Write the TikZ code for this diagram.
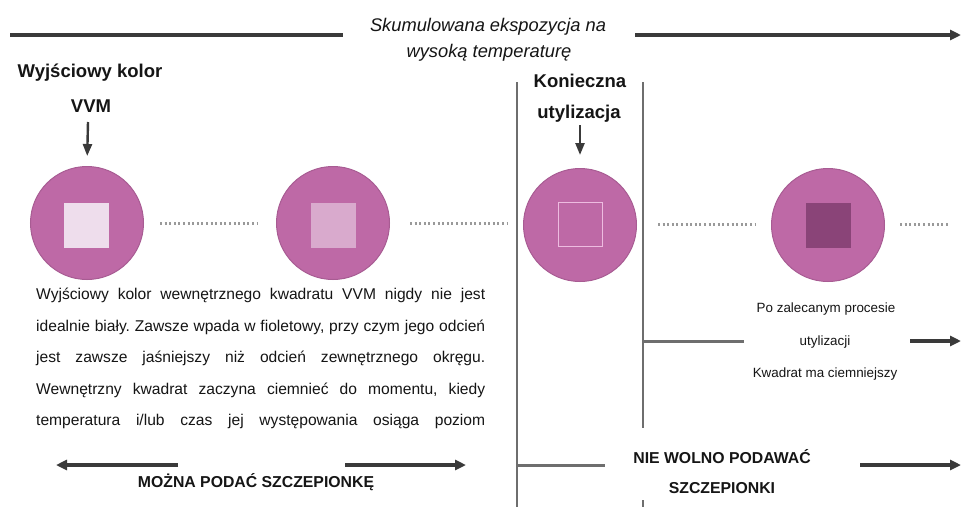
\documentclass[tikz,border=0pt]{standalone}
\usepackage{fontspec}
\setmainfont{Liberation Sans}
\usetikzlibrary{arrows.meta}
\definecolor{circ}{HTML}{BE69A6}
\definecolor{circedge}{HTML}{A85C93}
\definecolor{sqa}{HTML}{EEDDEC}
\definecolor{sqb}{HTML}{D9AACD}
\definecolor{sqc}{HTML}{EDBCE0}
\definecolor{sqd}{HTML}{8A4478}
\definecolor{lineg}{HTML}{3A3A3A}
\definecolor{vgray}{HTML}{6E6E6E}
\definecolor{dotg}{HTML}{9A9A9A}
\definecolor{txt}{HTML}{151515}
\begin{document}
\frenchspacing
\begin{tikzpicture}[x=1pt,y=-1pt,
  lbl/.style={font=\bfseries\fontsize{18.5}{22}\selectfont, anchor=base, inner sep=0, text=txt},
  ital/.style={font=\itshape\fontsize{18.3}{22}\selectfont, anchor=base, inner sep=0, text=txt},
  smalltxt/.style={font=\fontsize{13.4}{16}\selectfont, anchor=base, inner sep=0, text=txt},
  captxt/.style={font=\bfseries\fontsize{15.8}{19}\selectfont, anchor=base, inner sep=0, text=txt},
  para/.style={font=\frenchspacing\fontsize{15.6}{18}\selectfont, anchor=base west, inner sep=0, text=txt},
  hline/.style={draw=lineg, line width=3.2pt},
  arr/.style={hline, -{Triangle[length=11pt,width=10pt]}},
  downarr/.style={draw=lineg, line width=2.4pt, -{Triangle[length=12pt,width=9pt]}},
  vline/.style={draw=vgray, line width=2.8pt},
  gline/.style={draw=vgray, line width=3pt},
  dots/.style={draw=dotg, line width=3pt, dash pattern=on 2pt off 2.6pt},
  ring/.style={circle, minimum size=113pt, fill=circ, draw=circedge, line width=1pt, inner sep=0},
  sqbox/.style={minimum size=45pt, inner sep=0}
]
\useasboundingbox (0,0) rectangle (962,507);
\fill[white] (0,0) rectangle (962,507);

% top timeline
\node[ital] (t1) at (488,31) {Skumulowana ekspozycja na};
\node[ital] (t2) at (489,57) {wysoką temperaturę};
\coordinate (tl1) at (10,35);
\coordinate (tl2) at (343,35);
\coordinate (tr1) at (635,35);
\coordinate (tr2) at (961,35);
\draw[hline] (tl1) -- (tl2);
\draw[arr] (tr1) -- (tr2);

% labels
\node[lbl] (w1) at (90,77) {Wyjściowy kolor};
\node[lbl] (w2) at (91,112) {VVM};
\node[lbl] (k1) at (580,87) {Konieczna};
\node[lbl] (k2) at (579,118) {utylizacja};

% circles
\node[ring] (c1) at (87,223) {};
\node[ring] (c2) at (333,223) {};
\node[ring] (c3) at (580,225) {};
\node[ring] (c4) at (828,225) {};
\node[sqbox, fill=sqa] (s1) at (86,225) {};
\node[sqbox, fill=sqb] (s2) at (333,225) {};
\node[sqbox, draw=sqc, line width=1.8pt, minimum size=44pt] (s3) at (580.5,224.5) {};
\node[sqbox, fill=sqd] (s4) at (828.5,225) {};

% down arrows
\coordinate (a1) at (88,122);
\coordinate (a2) at (580,125);
\draw[downarr, shorten >=10pt] (a1) -- (c1.north);
\draw[downarr, shorten >=13pt] (a2) -- (c3.north);

% dotted links
\draw[dots] (160,223) -- (257,223);
\draw[dots] (410,223) -- (507,223);
\draw[dots] (658,224) -- (755,224);
\draw[dots] (900,224) -- (950,224);

% vertical separators
\coordinate (v1a) at (517,82);
\coordinate (v1b) at (517,507);
\coordinate (v2a) at (643,82);
\coordinate (v2b) at (643,428);
\coordinate (v2c) at (643,500);
\coordinate (v2d) at (643,507);
\draw[vline] (v1a) -- (v1b);
\draw[vline] (v2a) -- (v2b);
\draw[vline] (v2c) -- (v2d);

% paragraph
\node[para] (p1) at (36,299) {\makebox[449pt][s]{Wyjściowy kolor wewnętrznego kwadratu VVM nigdy nie jest}};
\node[para] (p2) at (36,331) {\makebox[449pt][s]{idealnie biały. Zawsze wpada w fioletowy, przy czym jego odcień}};
\node[para] (p3) at (36,362) {\makebox[449pt][s]{jest zawsze jaśniejszy niż odcień zewnętrznego okręgu.}};
\node[para] (p4) at (36,394) {\makebox[449pt][s]{Wewnętrzny kwadrat zaczyna ciemnieć do momentu, kiedy}};
\node[para] (p5) at (36,425) {\makebox[449pt][s]{temperatura i/lub czas jej występowania osiąga poziom}};

% right text
\node[smalltxt] (r1) at (826,312) {Po zalecanym procesie};
\node[smalltxt] (r2) at (825,345) {utylizacji};
\node[smalltxt] (r3) at (825,377) {Kwadrat ma ciemniejszy};
\coordinate (h1a) at (643,341);
\coordinate (h1b) at (744,341);
\coordinate (h1c) at (910,341);
\coordinate (h1d) at (961,341);
\draw[gline] (h1a) -- (h1b);
\draw[arr] (h1c) -- (h1d);

% bottom right
\node[captxt] (n1) at (722,463) {NIE WOLNO PODAWAĆ};
\node[captxt] (n2) at (722,493) {SZCZEPIONKI};
\coordinate (h2a) at (517,465);
\coordinate (h2b) at (605,465);
\coordinate (h2c) at (860,465);
\coordinate (h2d) at (961,465);
\draw[gline] (h2a) -- (h2b);
\draw[arr] (h2c) -- (h2d);

% bottom left
\node[captxt] (m1) at (256,487) {MOŻNA PODAĆ SZCZEPIONKĘ};
\coordinate (b1a) at (178,465);
\coordinate (b1b) at (56,465);
\coordinate (b2a) at (345,465);
\coordinate (b2b) at (466,465);
\draw[arr] (b1a) -- (b1b);
\draw[arr] (b2a) -- (b2b);
\end{tikzpicture}
\end{document}
